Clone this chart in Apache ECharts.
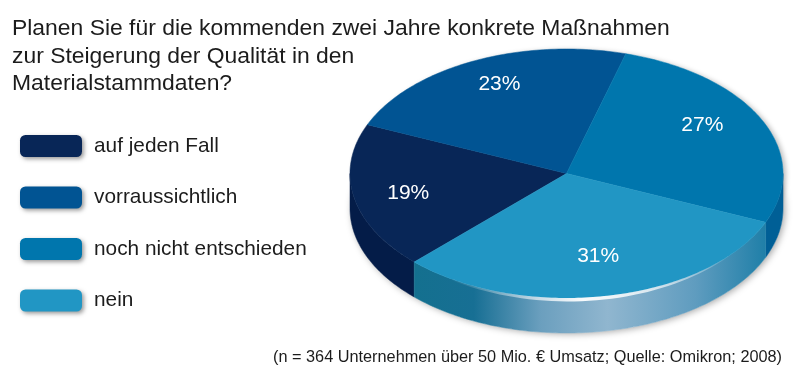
<!DOCTYPE html>
<html>
<head>
<meta charset="utf-8">
<style>html,body{margin:0;padding:0;background:#fff}#chart{width:800px;height:370px}</style>
<script src="https://cdn.jsdelivr.net/npm/echarts@6/dist/echarts.min.js"></script>
</head>
<body>
<div id="chart"></div>
<script>
var categories = ['auf jeden Fall', 'vorraussichtlich', 'noch nicht entschieden', 'nein'];
var shares = [19, 23, 27, 31];
var titleLines = [
  'Planen Sie für die kommenden zwei Jahre konkrete Maßnahmen',
  'zur Steigerung der Qualität in den',
  'Materialstammdaten?'
];
var sourceNote = '(n = 364 Unternehmen über 50 Mio. € Umsatz; Quelle: Omikron; 2008)';

// styling
var topColors = ['#082657', '#015493', '#0076ad', '#2196c4'];
var wallColors = ['#041c48', '#013f78', '#005f96', null];
var labelSpots = [[0.745, 0.83], [0.72, 0.795], [0.695, 0.905], [0.76, 0.68]];
var cx = 566.5, cy = 173.5, rx = 216.5, ry = 124.5, depth = 35;
var startAngle = 224.7; // degrees clockwise from 12 o'clock

function pt(deg, dy, ryy) {
  var t = deg * Math.PI / 180;
  return [cx + rx * Math.sin(t), cy - (ryy || ry) * Math.cos(t) + (dy || 0)];
}

function arc(a, b, dy) {
  var pts = [], n = Math.max(2, Math.ceil(Math.abs(b - a)));
  for (var i = 0; i <= n; i++) {
    pts.push(pt(a + (b - a) * i / n, dy));
  }
  return pts;
}

var wallGradient = {
  type: 'linear', global: true, x: 414, y: 0, x2: 766, y2: 0,
  colorStops: [
    {offset: 0, color: '#14708f'},
    {offset: 0.17, color: '#176f94'},
    {offset: 0.36, color: '#6b9fbe'},
    {offset: 0.55, color: '#90b6cf'},
    {offset: 0.8, color: '#5f9cbf'},
    {offset: 1, color: '#1f7fa8'}
  ]
};

var glowGradient = {
  type: 'linear', global: true, x: 450, y: 0, x2: 745, y2: 0,
  colorStops: [
    {offset: 0, color: 'rgba(255,255,255,0)'},
    {offset: 0.45, color: 'rgba(255,255,255,0.95)'},
    {offset: 0.7, color: 'rgba(255,255,255,0.7)'},
    {offset: 1, color: 'rgba(255,255,255,0)'}
  ]
};

function renderSlice(idx) {
  return function (params, api) {
    var from = startAngle + api.value(0) * 3.6;
    var to = from + api.value(1) * 3.6;
    var color = api.visual('color');
    var children = [];

    // front wall: only the part of the rim facing the viewer
    var w0 = Math.max(from % 360, 90), w1 = Math.min(from % 360 + (to - from), 270);
    if (from >= 360 && from - 360 < 90 && to - 360 > 90) {
      w0 = 90; w1 = to - 360;
    }
    if (w1 > w0) {
      var wallFill = wallColors[idx] || wallGradient;
      children.push({
        type: 'polygon',
        shape: {points: arc(w0, w1, 0).concat(arc(w1, w0, depth))},
        style: {fill: wallFill, stroke: wallFill, lineWidth: 0.5}
      });
    }

    children.push({
      type: 'polygon',
      shape: {points: [[cx, cy]].concat(arc(from, to, 0))},
      style: {fill: color, stroke: color, lineWidth: 0.5}
    });

    // white rim light under the front slice
    if (!wallColors[idx]) {
      var upper = arc(128, 222, 0), lower = [];
      for (var d = 222; d >= 128; d -= 2) {
        var k = Math.sin((d - 128) / 94 * Math.PI);
        lower.push(pt(d, 3.5 * k));
      }
      children.push({
        type: 'polygon',
        shape: {points: upper.concat(lower)},
        style: {fill: glowGradient}
      });
    }

    var mid = (from + to) / 2 * Math.PI / 180;
    children.push({
      type: 'text',
      style: {
        text: api.value(1) + '%',
        x: cx + rx * labelSpots[idx][0] * Math.sin(mid),
        y: cy - ry * labelSpots[idx][1] * Math.cos(mid),
        fill: '#fff',
        font: '21px "Liberation Sans"',
        align: 'center',
        verticalAlign: 'middle'
      }
    });

    return {type: 'group', children: children};
  };
}

var series = [], acc = 0;
for (var i = 0; i < categories.length; i++) {
  series.push({
    type: 'custom',
    name: categories[i],
    coordinateSystem: 'none',
    itemStyle: {color: topColors[i]},
    data: [[acc, shares[i]]],
    renderItem: renderSlice(i),
    z: 2,
    silent: true,
    animation: false
  });
  acc += shares[i];
}

var chart = echarts.init(document.getElementById('chart'));

chart.setOption({
  backgroundColor: '#fff',
  animation: false,
  textStyle: {fontFamily: '"Liberation Sans"'},
  title: [
    {
      text: titleLines.join('\n'),
      left: 7, top: 10,
      textStyle: {fontSize: 22.9, fontWeight: 'normal', color: '#1c1c1c', lineHeight: 27.5, fontFamily: '"Liberation Sans"'}
    },
    {
      text: sourceNote,
      left: 268, top: 345,
      textStyle: {fontSize: 16.3, fontWeight: 'normal', color: '#1c1c1c', fontFamily: '"Liberation Sans"'}
    }
  ],
  legend: {
    data: categories,
    orient: 'vertical',
    left: 15, top: 130,
    itemWidth: 62, itemHeight: 22, itemGap: 29.5,
    icon: 'roundRect',
    selectedMode: false,
    itemStyle: {shadowBlur: 4, shadowOffsetX: 2, shadowOffsetY: 2, shadowColor: 'rgba(0,0,0,0.4)'},
    textStyle: {fontSize: 20.8, color: '#1c1c1c', padding: [0, 0, 0, 7], fontFamily: '"Liberation Sans"'}
  },
  // soft shadow behind the whole disc
  graphic: [
    {
      type: 'ellipse', z: 0, silent: true,
      shape: {cx: cx, cy: cy + depth, rx: rx, ry: ry},
      style: {fill: '#fff', shadowBlur: 7, shadowOffsetX: 2, shadowOffsetY: 1, shadowColor: 'rgba(0,0,0,0.35)'}
    },
    {
      type: 'ellipse', z: 0, silent: true,
      shape: {cx: cx, cy: cy, rx: rx, ry: ry},
      style: {fill: '#fff', shadowBlur: 5, shadowOffsetX: 3, shadowOffsetY: 1, shadowColor: 'rgba(0,0,0,0.25)'}
    }
  ],
  series: series
});
</script>
</body>
</html>
